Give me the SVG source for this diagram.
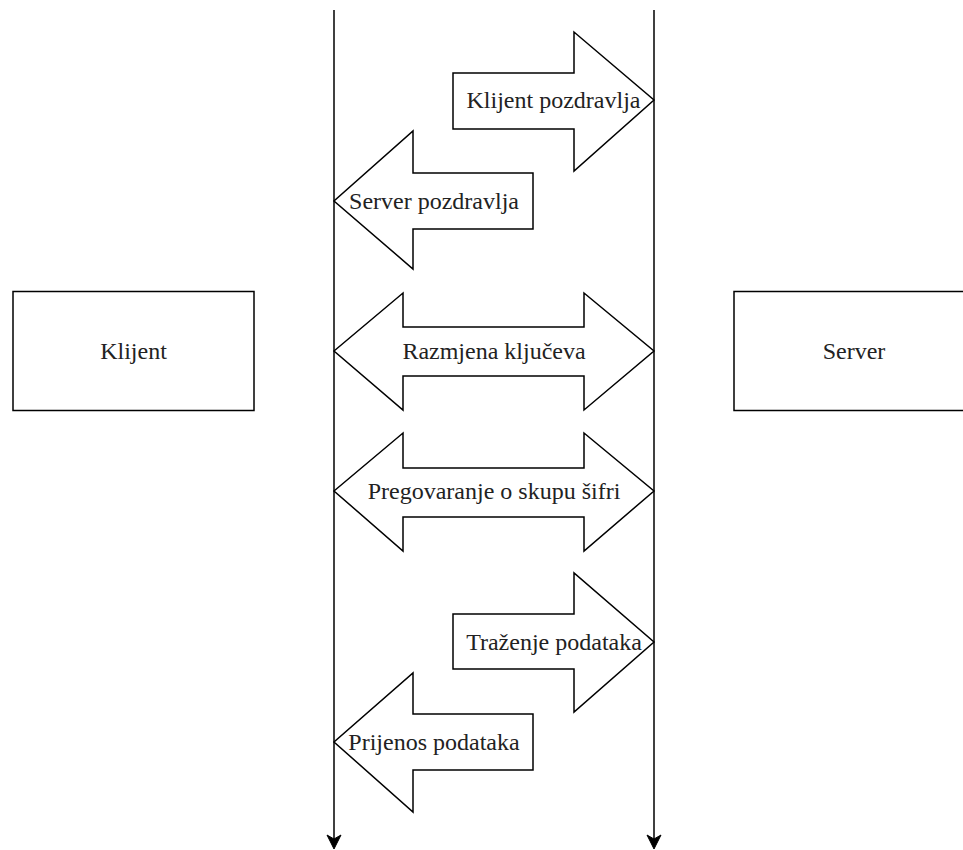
<svg xmlns="http://www.w3.org/2000/svg" width="963" height="850" viewBox="0 0 963 850">
<style>
.shape{fill:#fff;stroke:#000;stroke-width:1.5;stroke-linejoin:miter}
.ln{fill:none;stroke:#000;stroke-width:1.5}
.head{fill:#000;stroke:#000;stroke-width:1}
text{font-family:"Liberation Serif","Times New Roman",serif;font-size:24px;fill:#222;text-anchor:middle}
</style>
<rect width="963" height="850" fill="#fff"/>
<g id="connectors">
<line class="ln" x1="334" y1="10" x2="334" y2="840"/>
<path class="head" d="M334,849 L327,835 L334,839 L341,835 Z"/>
<line class="ln" x1="654" y1="10" x2="654" y2="840"/>
<path class="head" d="M654,849 L647,835 L654,839 L661,835 Z"/>
</g>
<g id="klijent">
<rect class="shape" x="13" y="291.5" width="241" height="119"/>
<text x="133.5" y="359">Klijent</text>
</g>
<g id="server">
<rect class="shape" x="734" y="291.5" width="241" height="119"/>
<text x="854" y="359">Server</text>
</g>
<g id="klijent-pozdravlja">
<path class="shape" d="M453,73 L574,73 L574,32 L654,100 L574,171 L574,129 L453,129 Z"/>
<text x="553.5" y="108">Klijent pozdravlja</text>
</g>
<g id="server-pozdravlja">
<path class="shape" d="M533,173 L413,173 L413,131 L334,201 L413,269 L413,229 L533,229 Z"/>
<text x="434" y="209">Server pozdravlja</text>
</g>
<g id="razmjena-kljuceva">
<path class="shape" d="M334,351 L403,293 L403,327 L584,327 L584,293 L654,351 L584,410 L584,376 L403,376 L403,410 Z"/>
<text x="494" y="359">Razmjena ključeva</text>
</g>
<g id="pregovaranje">
<path class="shape" d="M334,491 L403,433 L403,468 L584,468 L584,433 L654,491 L584,551 L584,517 L403,517 L403,551 Z"/>
<text x="494" y="499">Pregovaranje o skupu šifri</text>
</g>
<g id="trazenje-podataka">
<path class="shape" d="M453,614 L574,614 L574,573 L654,642 L574,712 L574,669 L453,669 Z"/>
<text x="554" y="650">Traženje podataka</text>
</g>
<g id="prijenos-podataka">
<path class="shape" d="M533,714 L413,714 L413,673 L334,742 L413,812 L413,770 L533,770 Z"/>
<text x="434" y="750">Prijenos podataka</text>
</g>
</svg>
